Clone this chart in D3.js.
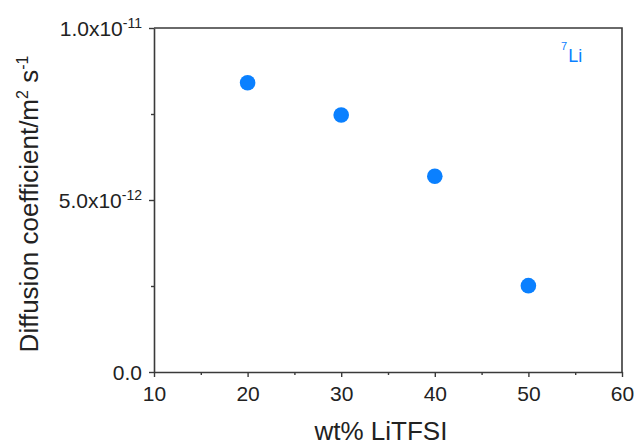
<!DOCTYPE html>
<html>
<head>
<meta charset="utf-8">
<script src="https://cdn.jsdelivr.net/npm/d3@7/dist/d3.min.js"></script>
<style>
  html, body { margin: 0; padding: 0; background: #fff; }
  svg { display: block; font-family: "Liberation Sans", Arial, sans-serif; }
</style>
</head>
<body>
<svg id="chart" width="636" height="445"></svg>
<script>
// ---- data ----
const wtPercent = [20, 30, 40, 50];
const diffusion = [8.41e-12, 7.47e-12, 5.69e-12, 2.51e-12];
const seriesLabel = { sup: "7", main: "Li" };

const xTicks = [10, 20, 30, 40, 50, 60];
const xMinorTicks = [15, 25, 35, 45, 55];
const yTicks = [0, 5e-12, 1e-11];
const yMinorTicks = [2.5e-12, 7.5e-12];
const yTickMantissa = ["0.0", "5.0x10", "1.0x10"];
const yTickExponent = ["", "-12", "-11"];

const xTitle = "wt% LiTFSI";

// ---- layout ----
const svg = d3.select("#chart");
const pL = 154, pR = 622, pT = 28, pB = 372;
const axisColor = "#3a3a3a";
const dotColor = "#0a80ff";

const x = d3.scaleLinear().domain([10, 60]).range([pL, pR]);
const y = d3.scaleLinear().domain([0, 1e-11]).range([pB, pT]);

// frame (top and right)
svg.append("path")
  .attr("d", `M${pL},${pT}H${pR}V${pB}`)
  .attr("fill", "none").attr("stroke", axisColor).attr("stroke-width", 1.6);

// x axis
const gx = svg.append("g").attr("transform", `translate(0,${pB})`)
  .call(d3.axisBottom(x).tickValues(xTicks).tickSize(5).tickSizeOuter(0).tickPadding(9).tickFormat(d3.format("d")));
const gxm = svg.append("g").attr("transform", `translate(0,${pB})`)
  .call(d3.axisBottom(x).tickValues(xMinorTicks).tickSize(3).tickSizeOuter(0).tickFormat(""));
gxm.select(".domain").remove();

// y axis
const gy = svg.append("g").attr("transform", `translate(${pL},0)`)
  .call(d3.axisLeft(y).tickValues(yTicks).tickSize(5).tickSizeOuter(0).tickPadding(7).tickFormat(""));
const gym = svg.append("g").attr("transform", `translate(${pL},0)`)
  .call(d3.axisLeft(y).tickValues(yMinorTicks).tickSize(3).tickSizeOuter(0).tickFormat(""));
gym.select(".domain").remove();

[gx, gxm, gy, gym].forEach(g => {
  g.selectAll(".domain").attr("stroke", axisColor).attr("stroke-width", 1.6);
  g.selectAll(".tick line").attr("stroke", axisColor).attr("stroke-width", 1.4);
});
gx.selectAll(".tick text").attr("font-size", 21).attr("fill", "#222")
  .attr("font-family", "'Liberation Sans', Arial, sans-serif");

// y tick labels with superscript exponents
gy.selectAll(".tick text").each(function(d) {
  const t = d3.select(this)
    .attr("font-size", 21).attr("fill", "#222")
    .attr("font-family", "'Liberation Sans', Arial, sans-serif")
    .attr("x", -12).attr("dy", "0.36em")
    .text(null);
  const idx = yTicks.indexOf(d);
  t.append("tspan").text(yTickMantissa[idx]);
  if (yTickExponent[idx]) {
    t.append("tspan").attr("font-size", 14).attr("dy", "-0.6em").text(yTickExponent[idx]);
  }
});

// points
svg.append("g").selectAll("circle")
  .data(wtPercent.map((w, i) => ({ w, v: diffusion[i] })))
  .join("circle")
  .attr("cx", d => x(d.w)).attr("cy", d => y(d.v))
  .attr("r", 7.8).attr("fill", dotColor);

// series label
const lab = svg.append("text").attr("x", 561).attr("y", 62).attr("fill", dotColor)
  .attr("font-size", 18);
lab.append("tspan").attr("font-size", 11).attr("dy", "-12").text(seriesLabel.sup);
lab.append("tspan").attr("dy", "12").attr("dx", 1).text(seriesLabel.main);

// x title
svg.append("text").attr("x", 381).attr("y", 440).attr("text-anchor", "middle")
  .attr("font-size", 26).attr("fill", "#222").text(xTitle);

// y title
const yt = svg.append("text")
  .attr("transform", "translate(38,204) rotate(-90)")
  .attr("text-anchor", "middle").attr("font-size", 26).attr("fill", "#222");
yt.append("tspan").text("Diffusion coefficient/m");
yt.append("tspan").attr("font-size", 16).attr("dy", -10).text("2");
yt.append("tspan").attr("dy", 10).text(" s");
yt.append("tspan").attr("font-size", 16).attr("dy", -10).text("-1");
</script>
</body>
</html>
